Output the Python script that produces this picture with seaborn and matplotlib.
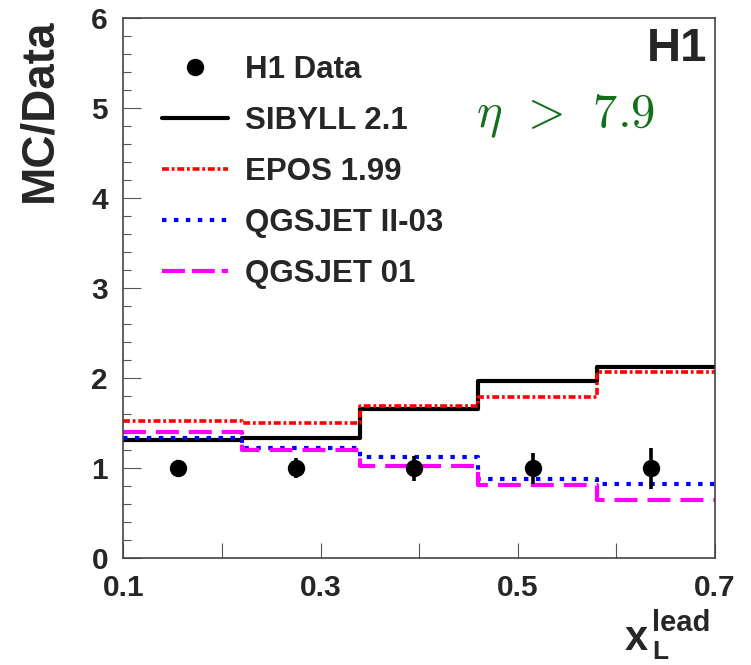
import matplotlib
matplotlib.use("Agg")
import matplotlib.pyplot as plt
from matplotlib.lines import Line2D
from matplotlib.ticker import FixedLocator, MultipleLocator
import numpy as np
import pandas as pd
import seaborn as sns

# ---------------- data ----------------
bin_edges = [0.10, 0.22, 0.34, 0.46, 0.58, 0.70]
sibyll = [1.31, 1.34, 1.66, 1.97, 2.12]
epos = [1.52, 1.50, 1.69, 1.79, 2.07]
qgsjet2 = [1.34, 1.23, 1.12, 0.88, 0.82]
qgsjet01 = [1.40, 1.20, 1.03, 0.81, 0.65]
data_x = [0.155, 0.275, 0.395, 0.515, 0.635]
data_y = [1.0, 1.0, 1.0, 1.0, 1.0]
data_err = [0.09, 0.11, 0.14, 0.17, 0.23]
labels = ["H1 Data", "SIBYLL 2.1", "EPOS 1.99", "QGSJET II-03", "QGSJET 01"]
xtick_labels = ["0.1", "0.3", "0.5", "0.7"]
ytick_labels = ["0", "1", "2", "3", "4", "5", "6"]

sns.set_style("white")
plt.rcParams["font.family"] = ["Liberation Sans", "DejaVu Sans"]
plt.rcParams["font.weight"] = "bold"
plt.rcParams["lines.scale_dashes"] = False

W, H = 751, 665
fig = plt.figure(figsize=(W / 100, H / 100), dpi=100)
ax = fig.add_axes([123.3 / W, 1 - 558.3 / H, (715 - 123.3) / W, (558.3 - 18.3) / H])

red_ls = (0, (5, 2, 2, 2))
blue_ls = (0, (3.2, 5.4))
mag_ls = (0, (16.5, 7.2))
styles = [
    (sibyll, "black", 3.0, "-"),
    (epos, "#ff0000", 2.6, red_ls),
    (qgsjet2, "#0000ff", 3.0, blue_ls),
    (qgsjet01, "#ff00ff", 3.0, mag_ls),
]
for vals, col, lw, ls in styles:
    df = pd.DataFrame({"x": bin_edges, "y": list(vals) + [vals[-1]]})
    sns.lineplot(data=df, x="x", y="y", ax=ax, drawstyle="steps-post",
                 color=col, linewidth=lw, linestyle=ls, estimator=None,
                 sort=False, legend=False)

ax.errorbar(data_x, data_y, yerr=data_err, fmt="o", color="black",
            markersize=11.5, elinewidth=2.6, capsize=0, zorder=5)

ax.set_xlim(0.1, 0.7)
ax.set_ylim(0, 6)
ax.set_xlabel("")
ax.set_ylabel("")

ax.xaxis.set_major_locator(FixedLocator([0.1, 0.3, 0.5, 0.7]))
ax.set_xticklabels(xtick_labels)
ax.xaxis.set_minor_locator(FixedLocator([0.2, 0.4, 0.6]))
ax.yaxis.set_major_locator(FixedLocator(range(7)))
ax.set_yticklabels(ytick_labels)
ax.yaxis.set_minor_locator(MultipleLocator(0.2))

ax.tick_params(axis="x", which="both", direction="in", length=10.8, width=0.8,
               color="#555555", labelsize=21.5, pad=11.5, top=False, bottom=True)
ax.tick_params(axis="y", which="major", direction="in", length=12.7, width=0.8,
               color="#555555", labelsize=21.5, pad=11, left=True, right=False)
ax.tick_params(axis="y", which="minor", direction="in", length=5.8, width=0.8,
               color="#555555", left=True, right=False)
for lab in ax.get_xticklabels() + ax.get_yticklabels():
    lab.set_fontweight("bold")
for sp in ax.spines.values():
    sp.set_visible(True)
    sp.set_color("#444444")
    sp.set_linewidth(1.2)

# legend
handles = [
    Line2D([], [], linestyle="none", marker="o", color="black", markersize=11.5),
    Line2D([], [], color="black", linewidth=3.0),
    Line2D([], [], color="#ff0000", linewidth=2.6, linestyle=red_ls),
    Line2D([], [], color="#0000ff", linewidth=3.0, linestyle=blue_ls),
    Line2D([], [], color="#ff00ff", linewidth=3.0, linestyle=(0, (16.5, 5))),
]
leg = ax.legend(handles, labels, loc="upper left",
                bbox_to_anchor=(161.7 / W, 1 - 55 / H), bbox_transform=fig.transFigure,
                frameon=False, borderpad=0, borderaxespad=0,
                handlelength=2.13, handletextpad=0.53, labelspacing=0.67,
                prop={"family": "Liberation Sans", "weight": "bold", "size": 22.5})

# annotations
fig.text(39 / W, 1 - 18 / H, "MC/Data", rotation=90, ha="center", va="top",
         fontsize=33, fontweight="bold")
fig.text(707 / W, 1 - 27 / H, "H1", ha="right", va="top", fontsize=34,
         fontweight="bold")
fig.text(476 / W, 1 - 127 / H, r"$\eta\;\,>\;\,7.9$", ha="left", va="baseline",
         fontsize=35, color="#13701a", math_fontfamily="cm")

# x axis title x_L^lead
fig.text(625 / W, 1 - 650 / H, "x", ha="left", va="baseline", fontsize=30,
         fontweight="bold")
fig.text(652 / W, 1 - 631 / H, "lead", ha="left", va="baseline", fontsize=21,
         fontweight="bold")
fig.text(652 / W, 1 - 659 / H, "L", ha="left", va="baseline", fontsize=19,
         fontweight="bold")

fig.savefig("out.png", dpi=100)
